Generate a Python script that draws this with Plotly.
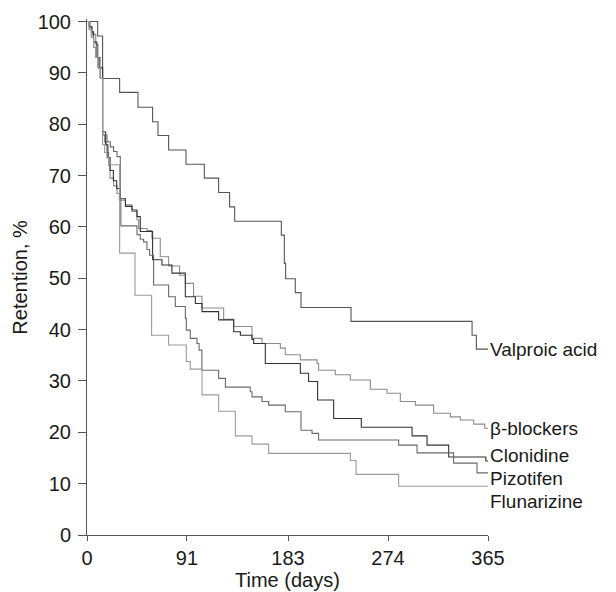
import plotly.graph_objects as go

# ---- data (days, retention %) ----
valproic_days = [0, 9.7, 14.2, 29.7, 46.4, 59.7, 64.6, 74.3, 90.1, 106.8, 119.8, 129.8, 134.4,
                 176.9, 179.6, 180.8, 189.6, 194.8, 240.3, 350.5, 354.4, 365]
valproic_pct = [100, 97.2, 88.9, 86.2, 83.3, 80.5, 77.8, 75.0, 72.2, 69.5, 66.7, 63.9, 61.1,
                58.4, 52.9, 49.9, 47.2, 44.3, 41.6, 38.9, 36.2, 36.2]

beta_days = [0, 3, 5, 8, 10, 12, 14.2, 16, 18, 19.7, 21, 24.2, 27.3, 29.4, 34.9, 40.9, 45.5, 47.0,
             54.6, 59.1, 66.7, 74.3, 84.3, 89.5, 97, 104.6, 124.4, 133.5, 150.2, 159.3, 176,
             180.5, 194.2, 209.4, 210.8, 226, 239.7, 257.9, 273.1, 285.2, 298.9, 315.5, 330.7,
             339.8, 352, 362, 365]
beta_pct = [100, 99, 97.5, 95.5, 93, 91, 78, 76.5, 74.5, 72, 69.5, 68.0, 66.5, 65.2, 64.3, 63.0,
            61.4, 59.7, 59.3, 57.8, 54.2, 52.4, 50.6, 49.0, 46.5, 44.2, 42.0, 40.6, 38.3, 37.3,
            36.4, 35.1, 34.1, 33.4, 32.1, 31.2, 30.2, 28.4, 27.6, 26.0, 25.3, 23.7, 23.0, 22.4,
            21.6, 20.8, 20.8]

clonidine_days = [0, 2, 4, 6, 9, 11, 14.2, 17, 19, 21, 24, 27, 30, 35, 41, 45.5, 48.5, 59.7, 68.2,
                  77.3, 89.5, 98.6, 104.7, 119.8, 133.5, 139.6, 150.2, 151.7, 162.3, 194.2, 201.7,
                  209.9, 224.5, 249.7, 295.9, 309.5, 329.2, 363, 365]
clonidine_pct = [100, 99, 98, 96, 93, 91, 78.5, 76, 73.5, 71, 69, 67.5, 65.5, 64, 63.3, 62, 59.1,
                 53.6, 52.6, 51.0, 46.4, 45.1, 43.5, 41.9, 39.6, 38.9, 38.1, 37.3, 33.4, 31.5,
                 29.9, 26.3, 22.7, 21.0, 19.3, 17.5, 15.2, 14.4, 14.4]

pizotifen_days = [0, 2, 4, 6, 8, 10, 12, 14.2, 18.2, 21.2, 24.2, 27.3, 30.3, 30.8, 45.5, 48.5, 51.5,
                  54.6, 57, 60.6, 74.3, 80.4, 89.5, 90.4, 94.0, 100.1, 102, 104.6, 119.8, 126,
                  148.6, 150.2, 159.3, 165.3, 180.5, 194.8, 204.8, 210.8, 283.7, 300.4, 333.7,
                  355, 365]
pizotifen_pct = [100, 98.5, 97, 95, 93, 91, 89, 77.9, 76.6, 75.6, 74.7, 73.7, 65.2, 60.2, 58.5,
                 57.6, 57.1, 55.6, 54.5, 48.7, 46.4, 44.5, 42.2, 39.9, 38.3, 37.3, 36.0, 32.1,
                 30.5, 28.8, 27.9, 26.9, 26.0, 25.3, 24.0, 20.4, 19.8, 18.5, 17.5, 16.0, 14.0,
                 12.1, 12.1]

flunarizine_days = [0, 2, 4, 6, 8, 10, 12, 14.2, 16, 18, 19.7, 29.7, 43.7, 58.8, 74.3, 90.4, 94.0,
                    104.7, 119.8, 135.0, 150.2, 165.3, 239.7, 244.9, 283.7, 365]
flunarizine_pct = [100, 98.5, 97, 95, 93, 91, 89, 76, 74.5, 73.5, 72.1, 54.9, 46.7, 38.9, 37.0,
                   33.8, 32.3, 27.3, 24.1, 19.3, 17.7, 15.9, 14.5, 11.8, 9.5, 9.5]

series_names = ["Valproic acid", "β-blockers", "Clonidine", "Pizotifen", "Flunarizine"]
label_y = [36.1, 20.8, 15.4, 11.0, 6.6]

x_ticks = [0, 91, 183, 274, 365]
y_ticks = list(range(0, 101, 10))

colors = ["#555555", "#8c8c8c", "#333333", "#6a6a6a", "#9a9a9a"]
series = [(valproic_days, valproic_pct), (beta_days, beta_pct), (clonidine_days, clonidine_pct),
          (pizotifen_days, pizotifen_pct), (flunarizine_days, flunarizine_pct)]

FONT = "Liberation Sans, Arial, Helvetica, sans-serif"
TXT = "#1a1a1a"
FS = 20
FS_LABEL = 19

fig = go.Figure()
for (dx, dy), name, col in zip(series, series_names, colors):
    fig.add_trace(go.Scatter(x=dx, y=dy, mode="lines", name=name,
                             line=dict(color=col, width=1.1, shape="hv"),
                             showlegend=False, hoverinfo="skip"))

annotations = []
for name, ly in zip(series_names, label_y):
    annotations.append(dict(x=365, y=ly, xref="x", yref="y", text=name, showarrow=False,
                            xanchor="left", yanchor="middle", xshift=1, borderpad=0,
                            font=dict(family=FONT, size=FS_LABEL, color=TXT)))

annotations.append(dict(x=0.5, y=-0.0872, xref="paper", yref="paper", text="Time (days)",
                        showarrow=False, xanchor="center", yanchor="middle", borderpad=0,
                        font=dict(family=FONT, size=FS, color=TXT)))
annotations.append(dict(x=-0.168, y=0.5, xref="paper", yref="paper", text="Retention, %",
                        showarrow=False, xanchor="center", yanchor="middle", textangle=-90,
                        font=dict(family=FONT, size=FS, color=TXT)))

fig.update_layout(
    width=616, height=592,
    margin=dict(l=87, r=128, t=19, b=57),
    paper_bgcolor="white", plot_bgcolor="white",
    font=dict(family=FONT, size=FS, color=TXT),
    annotations=annotations,
    xaxis=dict(range=[0, 365], tickvals=x_ticks, ticktext=[str(v) for v in x_ticks],
               showline=True, linecolor="#555555", linewidth=1, showgrid=False, zeroline=False,
               ticks="outside", ticklen=5, tickcolor="#555555",
               tickfont=dict(family=FONT, size=FS, color=TXT)),
    yaxis=dict(range=[0, 100.5], tickvals=y_ticks, ticktext=[str(v) for v in y_ticks],
               showline=True, linecolor="#555555", linewidth=1, showgrid=False, zeroline=False,
               ticks="outside", ticklen=8, tickcolor="#555555", ticklabelstandoff=3,
               tickfont=dict(family=FONT, size=FS, color=TXT)),
)

fig.write_html("out.html", config={"displayModeBar": False},
               post_script="document.body.style.margin='0';document.body.style.overflow='hidden';")
